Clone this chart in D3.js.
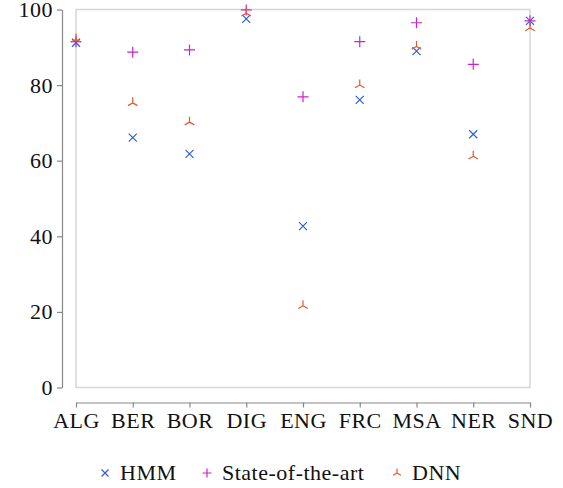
<!DOCTYPE html>
<html>
<head>
<meta charset="utf-8">
<script src="https://cdn.jsdelivr.net/npm/d3@7"></script>
<style>
  body { margin: 0; background: #fff; }
  text { font-family: "Liberation Serif", "DejaVu Serif", serif; }
</style>
</head>
<body>
<svg id="chart" width="563" height="488"></svg>
<script>
// values
var languages = ["ALG", "BER", "BOR", "DIG", "ENG", "FRC", "MSA", "NER", "SND"];
var hmm   = [91.2, 66.1, 61.8, 97.5, 42.7, 76.1, 89.0, 67.0, 97.0];
var sota  = [91.5, 88.7, 89.3, 99.9, 76.9, 91.5, 96.5, 85.5, 97.0];
var dnn   = [92.1, 75.3, 70.2, 99.0, 21.6, 80.0, 90.2, 61.2, 95.1];
var yTicks = [0, 20, 40, 60, 80, 100];

var series = [
  { name: "HMM", values: hmm, color: "#2b5fd9", mark: "cross" },
  { name: "State-of-the-art", values: sota, color: "#cc22cc", mark: "plus" },
  { name: "DNN", values: dnn, color: "#e05a2a", mark: "tri" }
];

var svg = d3.select("#chart");
var plotL = 76, plotR = 530, plotT = 9.5, plotB = 387.5;

var x = d3.scalePoint().domain(languages).range([plotL, plotR]);
var y = d3.scaleLinear().domain([0, 100]).range([plotB, plotT]);

// light frame around the data area
svg.append("rect")
  .attr("x", plotL).attr("y", plotT)
  .attr("width", plotR - plotL).attr("height", plotB - plotT)
  .attr("fill", "none").attr("stroke", "#d6d6d6").attr("stroke-width", 1.5);

// detached axes
var yaxis = svg.append("g")
  .attr("transform", "translate(62,0)")
  .call(d3.axisLeft(y).tickValues(yTicks).tickSize(5).tickSizeOuter(0).tickPadding(4));
var xaxis = svg.append("g")
  .attr("transform", "translate(0,402.5)")
  .call(d3.axisBottom(x).tickSize(5).tickSizeOuter(0).tickPadding(5));

[yaxis, xaxis].forEach(function(g) {
  g.select(".domain").attr("stroke", "#888").attr("stroke-width", 1.2);
  g.selectAll(".tick line").attr("stroke", "#888").attr("stroke-width", 1.2);
  g.selectAll(".tick text").attr("fill", "#111").style("font-size", "22px")
    .style("font-family", "'Liberation Serif', serif").style("letter-spacing", "0.5px");
});

function markPath(kind, s) {
  if (kind == "cross") {
    return "M" + (-s) + "," + (-s) + "L" + s + "," + s + "M" + (-s) + "," + s + "L" + s + "," + (-s);
  }
  if (kind == "plus") {
    return "M" + (-s) + ",0L" + s + ",0M0," + (-s) + "L0," + s;
  }
  // flipped mercedes star: one arm up, two down
  var a = s * 0.866, b = s * 0.5;
  return "M0,0L0," + (-s) + "M0,0L" + (-a) + "," + b + "M0,0L" + a + "," + b;
}

var sizes = { cross: 4, plus: 5.5, tri: 5.5 };

series.forEach(function(sr) {
  svg.append("g").selectAll("path")
    .data(sr.values)
    .enter().append("path")
    .attr("transform", function(d, i) { return "translate(" + x(languages[i]) + "," + y(d) + ")"; })
    .attr("d", markPath(sr.mark, sizes[sr.mark]))
    .attr("fill", "none")
    .attr("stroke", sr.color)
    .attr("stroke-width", 1.2);
});

// legend
var legendX = [105, 207, 397];
var legend = svg.append("g");
series.forEach(function(sr, i) {
  legend.append("path")
    .attr("transform", "translate(" + legendX[i] + ",473)")
    .attr("d", markPath(sr.mark, sr.mark == "cross" ? 3.5 : 4.5))
    .attr("fill", "none").attr("stroke", sr.color).attr("stroke-width", 1.2);
  legend.append("text")
    .attr("x", legendX[i] + 15).attr("y", 479.5)
    .style("font-size", "22px").style("letter-spacing", "0.5px").attr("fill", "#111")
    .text(sr.name);
});
</script>
</body>
</html>
